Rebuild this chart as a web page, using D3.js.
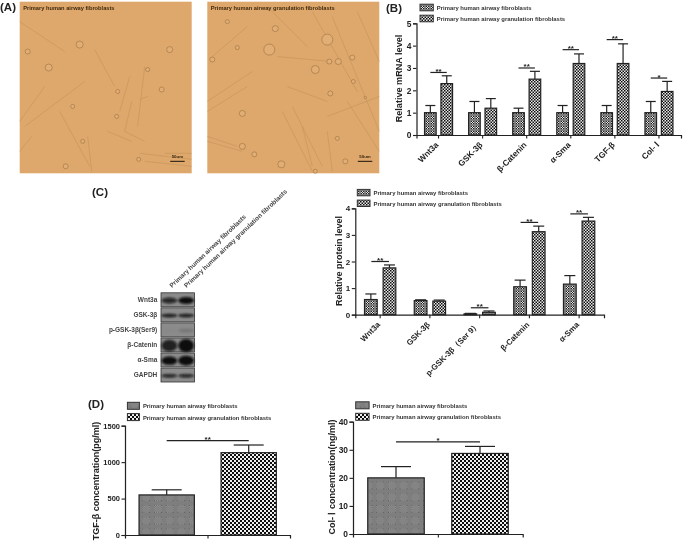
<!DOCTYPE html>
<html><head><meta charset="utf-8">
<style>
html,body{margin:0;padding:0;background:#fff}
svg{display:block}
text{font-family:"Liberation Sans",Arial,sans-serif}
</style>
<script src="https://cdn.jsdelivr.net/npm/d3@7/dist/d3.min.js"></script>
</head><body><div id="c"></div>
<script>
// ---------- data ----------
const seriesA = "Primary human airway fibroblasts";
const seriesB = "Primary human airway granulation fibroblasts";

const mrnaCats  = ["Wnt3a","GSK-3β","β-Catenin","α-Sma","TGF-β","Col- Ⅰ"];
const mrnaA     = [1,1,1,1,1,1];
const mrnaAHi   = [1.32,1.5,1.2,1.32,1.32,1.5];
const mrnaB     = [2.3,1.2,2.5,3.2,3.2,1.95];
const mrnaBHi   = [2.65,1.63,2.85,3.63,4.08,2.4];
const mrnaSig   = ["**","","**","**","**","*"];
const mrnaSigY  = [2.8,null,3.0,3.82,4.27,2.55];
const mrnaTicks = [0,1,2,3,4,5];

const protCats  = ["Wnt3a","GSK-3β","p-GSK-3β（Ser 9）","β-Catenin","α-Sma"];
const protA     = [0.57,0.53,0.03,1.05,1.15];
const protAHi   = [0.78,0.56,0.05,1.3,1.47];
const protB     = [1.76,0.51,0.09,3.12,3.52];
const protBHi   = [1.87,0.55,0.14,3.33,3.66];
const protSig   = ["**","","**","**","**"];
const protSigY  = [2.0,null,0.26,3.47,3.79];
const protTicks = [0,1,2,3,4];

const tgfVals = [550,1130], tgfHi = [620,1235], tgfSigY = 1294, tgfTicks = [0,500,1000,1500];
const colVals = [20,28.7],  colHi = [24,31.2],  colSigY = 32.8, colTicks = [0,10,20,30,40];

const blotRows = ["Wnt3a","GSK-3β","p-GSK-3β(Ser9)","β-Catenin","α-Sma","GAPDH"];
const blotLane1 = [0.8,0.9,0.02,0.85,1,0.85];   // band intensity
const blotLane2 = [1,0.9,0.14,1,1,0.85];
const blotBandH = [0.42,0.26,0.3,0.85,0.6,0.26];

// photo features, in photo pixels (0..172): strands [x1,y1,x2,y2], cells [x,y,r]
const strands1 = [[0,20,45,50],[75,48,95,85],[125,65,118,125],[110,75,100,110],[25,85,0,120],[65,80,5,125],[88,130,112,140],[105,130,125,140],[112,100,105,130],[120,152,172,158],[125,160,172,165],[40,110,70,165],[68,135,72,170],[120,98,128,95],[145,152,172,152],[0,150,12,135]];
const cells1 = [[60,43,3.5],[8,50,2.5],[29,66,3.5],[150,48,3],[128,68,2],[98,90,2],[142,88,2.5],[97,115,2],[53,105,2],[46,165,2.5],[63,140,2],[119,158,2]];
const strands2 = [[125,60,70,55],[105,10,150,90],[125,15,172,130],[150,10,172,60],[0,100,45,70],[0,110,40,85],[75,110,105,170],[85,105,115,165],[95,125,105,165],[120,115,172,95],[0,140,35,150],[0,135,30,145],[120,130,125,170],[140,100,172,150],[5,55,40,25],[60,5,100,45],[80,85,120,100]];
const cells2 = [[62,48,5.5],[120,38,5.5],[20,20,2],[68,27,3],[122,60,2.5],[131,60,3],[108,68,4],[146,80,2],[123,92,2.5],[145,56,2.5],[158,96,1.2],[35,112,3],[35,145,3],[47,153,2.5],[130,137,2],[74,163,3.5],[138,160,2.5],[30,46,2],[5,58,2.5],[108,170,2]];

// ---------- scaffold ----------
const svg = d3.select("#c").append("svg").attr("width",683).attr("height",541);
const defs = svg.append("defs");

function checkPattern(id,size,dark,light){
  const p = defs.append("pattern").attr("id",id).attr("patternUnits","userSpaceOnUse")
    .attr("width",size*2).attr("height",size*2);
  p.append("rect").attr("width",size*2).attr("height",size*2).attr("fill",light);
  p.append("rect").attr("width",size).attr("height",size).attr("fill",dark);
  p.append("rect").attr("x",size).attr("y",size).attr("width",size).attr("height",size).attr("fill",dark);
}
// coarse lattice of light/dark squares: drawn as a two-tone grid, fine enough to blur like the halftone
function patchPattern(id,period,patch,base,dark,light,cell){
  const p = defs.append("pattern").attr("id",id).attr("patternUnits","userSpaceOnUse")
    .attr("width",period).attr("height",period);
  p.append("rect").attr("width",period).attr("height",period).attr("fill",base);
  const n = Math.round(patch/cell), o = (period-n*cell)/2;
  d3.range(n).forEach(i=>d3.range(n).forEach(j=>{
    p.append("rect").attr("x",o+i*cell).attr("y",o+j*cell).attr("width",cell).attr("height",cell)
      .attr("fill",(i+j)%2?light:dark);
  }));
}
patchPattern("grayS",5,3,"#7d7d7d","#202020","#e4e4e4",1);
checkPattern("blackS",1.5,"#111","#e8e8e8");
patchPattern("grayL",11.7,7,"#7e7e7e","#101010","#ffffff",1);
checkPattern("blackL",2,"#111","#f0f0f0");

defs.append("filter").attr("id","blur1").attr("x","-30%").attr("y","-60%").attr("width","160%").attr("height","220%")
  .append("feGaussianBlur").attr("stdDeviation",0.9);
defs.append("filter").attr("id","soft").append("feGaussianBlur").attr("stdDeviation",0.3);

const ink = "#222";
const root = svg.append("g").attr("filter","url(#soft)");

function panelLabel(t,x,y){
  svg.append("text").attr("x",x).attr("y",y).text(t).attr("font-size",11.5).attr("font-weight",700).attr("fill","#222");
}
function legend(x,y,dy,w,h,pa,pb){
  [[seriesA,pa],[seriesB,pb]].forEach(([t,p],i)=>{
    root.append("rect").attr("x",x).attr("y",y+i*dy).attr("width",w).attr("height",h)
      .attr("fill",`url(#${p})`).attr("stroke","#333").attr("stroke-width",1);
    root.append("text").attr("x",x+w+3.5).attr("y",y+i*dy+h-1).text(t)
      .attr("font-size",5.9).attr("font-weight",700).attr("fill","#333");
  });
}

function barPanel(o){
  const g = root.append("g");
  const x = d3.scaleBand().domain(o.cats).range(o.xr).paddingInner(0).paddingOuter(0);
  const y = d3.scaleLinear().domain(o.yd).range(o.yr);
  const c = x.bandwidth();
  [[o.a,o.aHi,o.pa,-1],[o.b,o.bHi,o.pb,1]].forEach(([vals,his,pat,sgn])=>{
    o.cats.forEach((cat,i)=>{
      const cx = x(cat)+c/2+sgn*o.off, bx = cx-o.bw/2;
      g.append("line").attr("x1",cx).attr("x2",cx).attr("y1",y(vals[i])).attr("y2",y(his[i]))
        .attr("stroke",ink).attr("stroke-width",o.sw);
      g.append("line").attr("x1",cx-o.cap).attr("x2",cx+o.cap).attr("y1",y(his[i])).attr("y2",y(his[i]))
        .attr("stroke",ink).attr("stroke-width",o.sw);
      g.append("rect").attr("x",bx).attr("y",y(vals[i])).attr("width",o.bw).attr("height",y(0)-y(vals[i]))
        .attr("fill",`url(#${pat})`).attr("stroke",ink).attr("stroke-width",o.sw);
    });
  });
  o.cats.forEach((cat,i)=>{
    if(!o.sig[i]) return;
    const cx = x(cat)+c/2;
    g.append("line").attr("x1",cx-o.sigW).attr("x2",cx+o.sigW).attr("y1",y(o.sigY[i])).attr("y2",y(o.sigY[i]))
      .attr("stroke",ink).attr("stroke-width",1.2);
    g.append("text").attr("x",cx).attr("y",y(o.sigY[i])+1.5).attr("text-anchor","middle")
      .attr("font-size",8).attr("font-weight",700).attr("fill",ink).text(o.sig[i]);
  });
  const ya = d3.axisLeft(y).tickValues(o.ticks).tickSize(3.5).tickPadding(1.5).tickFormat(d3.format("d"));
  const yg = g.append("g").attr("transform",`translate(${o.xr[0]},0)`).call(ya);
  const xa = d3.axisBottom(x).tickSize(3.5).tickFormat("");
  const xg = g.append("g").attr("transform",`translate(0,${y(0)})`).call(xa);
  [yg,xg].forEach(s=>{s.selectAll("path").attr("stroke",ink).attr("stroke-width",1.2);
    s.selectAll("line").attr("stroke",ink).attr("stroke-width",1.1);});
  yg.selectAll("text").attr("font-size",o.tickFs).attr("font-weight",700).attr("fill",ink);
  o.cats.forEach(cat=>{
    const cx = x(cat)+c/2+o.lblDx;
    g.append("text").attr("transform",`translate(${cx},${y(0)+o.lblDy}) rotate(-45)`)
      .attr("text-anchor","end").attr("font-size",o.lblFs).attr("font-weight",700).attr("fill",ink).text(cat);
  });
  g.append("text").attr("transform",`translate(${o.ttlX},${o.ttlY}) rotate(-90)`)
    .attr("text-anchor","middle").attr("font-size",o.ttlFs).attr("font-weight",700).attr("fill",ink).text(o.title);
}

function singlePanel(o){
  const g = root.append("g");
  const x = d3.scaleBand().domain([0,1]).range(o.xb);
  const y = d3.scaleLinear().domain(o.yd).range(o.yr);
  [[0,o.pa],[1,o.pb]].forEach(([i,p])=>{
    const cx = x(i)+x.bandwidth()/2;
    g.append("line").attr("x1",cx).attr("x2",cx).attr("y1",y(o.v[i])).attr("y2",y(o.hi[i])).attr("stroke",ink).attr("stroke-width",1.2);
    g.append("line").attr("x1",cx-o.cap).attr("x2",cx+o.cap).attr("y1",y(o.hi[i])).attr("y2",y(o.hi[i])).attr("stroke",ink).attr("stroke-width",1.2);
    g.append("rect").attr("x",cx-o.bw/2).attr("y",y(o.v[i])).attr("width",o.bw).attr("height",y(0)-y(o.v[i]))
      .attr("fill",`url(#${p})`).attr("stroke",ink).attr("stroke-width",1.2);
  });
  const s0 = x(0)+x.bandwidth()/2, s1 = x(1)+x.bandwidth()/2;
  g.append("line").attr("x1",s0).attr("x2",s1).attr("y1",y(o.sigY)).attr("y2",y(o.sigY)).attr("stroke",ink).attr("stroke-width",1.3);
  g.append("text").attr("x",(s0+s1)/2).attr("y",y(o.sigY)+1.5).attr("text-anchor","middle").attr("font-size",8).attr("font-weight",700).attr("fill",ink).text(o.sig);
  const yg = g.append("g").attr("transform",`translate(${o.xr[0]},0)`).call(d3.axisLeft(y).tickValues(o.ticks).tickSize(3.5).tickPadding(1.5).tickFormat(d3.format("d")));
  yg.selectAll("path").attr("stroke",ink).attr("stroke-width",1.2);
  yg.selectAll("line").attr("stroke",ink).attr("stroke-width",1.1);
  yg.selectAll("text").attr("font-size",o.tickFs).attr("font-weight",700).attr("fill",ink);
  const xs = d3.scaleLinear().domain([0,1]).range(o.xr);
  const xg = g.append("g").attr("transform",`translate(0,${y(0)})`).call(d3.axisBottom(xs).tickValues([0.5]).tickSize(3.5).tickFormat(""));
  xg.selectAll("path").attr("stroke",ink).attr("stroke-width",1.2);
  xg.selectAll("line").attr("stroke",ink).attr("stroke-width",1.1);
  g.append("text").attr("transform",`translate(${o.ttlX},${o.ttlY}) rotate(-90)`)
    .attr("text-anchor","middle").attr("font-size",9).attr("font-weight",700).attr("fill",ink).text(o.title);
}

// ---------- panel A ----------
function photo(x0,y0,w,h,strands,cells,label){
  const g = svg.append("g");
  const px = d3.scaleLinear().domain([0,172]).range([x0,x0+w]);
  const py = d3.scaleLinear().domain([0,172]).range([y0,y0+h]);
  g.append("rect").attr("x",x0).attr("y",y0).attr("width",w).attr("height",h).attr("fill","#dea76b");
  const d = g.append("g").attr("filter","url(#soft)");
  d.selectAll(".s").data(strands).join("line")
    .attr("x1",s=>px(s[0])).attr("y1",s=>py(s[1])).attr("x2",s=>px(s[2])).attr("y2",s=>py(s[3]))
    .attr("stroke","#c2915a").attr("stroke-width",0.8).attr("stroke-opacity",.7);
  d.selectAll(".c").data(cells).join("circle")
    .attr("cx",s=>px(s[0])).attr("cy",s=>py(s[1])).attr("r",s=>s[2])
    .attr("fill","#e2ae74").attr("stroke","#8f6a3a").attr("stroke-width",0.7).attr("stroke-opacity",.75);
  g.append("text").attr("x",x0+3.5).attr("y",y0+8.5).text(label).attr("font-size",5.7).attr("font-weight",700).attr("fill","#3f2a10");
  g.append("line").attr("x1",px(150.5)).attr("x2",px(165)).attr("y1",py(160)).attr("y2",py(160)).attr("stroke","#1d130a").attr("stroke-width",1);
  g.append("text").attr("x",px(157.7)).attr("y",py(157)).attr("text-anchor","middle").text("50um").attr("font-size",4.4).attr("font-weight",700).attr("fill","#3a2710");
}
photo(19.7,1.7,172,171.6,strands1,cells1,seriesA);
photo(207.3,1.7,172,171.6,strands2,cells2,seriesB);
panelLabel("(A)",0,11);

// ---------- panel B ----------
panelLabel("(B)",386,12);
legend(420,4.2,11,13.3,6.6,"grayS","blackS");
barPanel({cats:mrnaCats,a:mrnaA,aHi:mrnaAHi,b:mrnaB,bHi:mrnaBHi,sig:mrnaSig,sigY:mrnaSigY,ticks:mrnaTicks,
  xr:[416.5,681],yr:[135,23.3],yd:[0,5],bw:11.6,off:8.2,cap:5,sw:1.2,sigW:8.2,pa:"grayS",pb:"blackS",
  tickFs:8.4,lblDx:0.5,lblDy:10.5,lblFs:8.3,title:"Relative mRNA level",ttlX:402,ttlY:78.5,ttlFs:9.1});

// ---------- panel C ----------
panelLabel("(C)",92,196);
legend(357.3,189.4,10.7,12.7,6.4,"grayS","blackS");
barPanel({cats:protCats,a:protA,aHi:protAHi,b:protB,bHi:protBHi,sig:protSig,sigY:protSigY,ticks:protTicks,
  xr:[355.3,604],yr:[314.7,208.3],yd:[0,4],bw:12.7,off:9.3,cap:5.5,sw:1.2,sigW:8.8,pa:"grayS",pb:"blackS",
  tickFs:8,lblDx:0.5,lblDy:10.5,lblFs:8,title:"Relative protein level",ttlX:342,ttlY:261,ttlFs:9});

// blot
const blot = svg.append("g");
const rowY = d3.scaleBand().domain(blotRows).range([292.8,382]).paddingInner(0.07);
const laneX = d3.scaleBand().domain([0,1]).range([161,194.5]);
blotRows.forEach((r,i)=>{
  const y0 = rowY(r), h = rowY.bandwidth();
  blot.append("rect").attr("x",161).attr("y",y0).attr("width",33.5).attr("height",h).attr("fill","#8b8b8b").attr("stroke","#333").attr("stroke-width",0.8);
  [blotLane1,blotLane2].forEach((lane,l)=>{
    blot.append("ellipse").attr("cx",laneX(l)+laneX.bandwidth()/2).attr("cy",y0+h*0.55)
      .attr("rx",laneX.bandwidth()*0.47).attr("ry",h*blotBandH[i]*0.5+(l&&i!=2&&i!=5&&i!=1?0.6:0))
      .attr("fill","#0a0a0a").attr("fill-opacity",lane[i]).attr("filter","url(#blur1)");
  });
  blot.append("text").attr("x",157.3).attr("y",y0+h/2+2.3).attr("text-anchor","end").attr("font-size",6.5).attr("font-weight",700).attr("fill","#444").text(r);
});
blot.append("text").attr("transform","translate(172,288) rotate(-43.5)").attr("font-size",6.4).attr("font-weight",700).attr("fill","#444").text(seriesA);
blot.append("text").attr("transform","translate(186.5,288) rotate(-43.5)").attr("font-size",6.4).attr("font-weight",700).attr("fill","#444").text(seriesB);

// ---------- panel D ----------
panelLabel("(D)",88,408);
legend(127.4,402.3,11.3,12,7,"grayL","blackL");
singlePanel({v:tgfVals,hi:tgfHi,sig:"**",sigY:tgfSigY,ticks:tgfTicks,xb:[125.7,289.7],xr:[125,290],yr:[535,425.7],yd:[0,1500],
  bw:55.3,cap:15,pa:"grayL",pb:"blackL",tickFs:7.5,title:"TGF-β   concentration(pg/ml)",ttlX:99,ttlY:481});
legend(355.7,401.8,11.5,13.4,7,"grayL","blackL");
singlePanel({v:colVals,hi:colHi,sig:"*",sigY:colSigY,ticks:colTicks,xb:[354,522],xr:[353,522.7],yr:[534,421.7],yd:[0,40],
  bw:56.5,cap:15,pa:"grayL",pb:"blackL",tickFs:8.4,title:"Col- Ⅰ   concentration(ng/ml)",ttlX:335,ttlY:477});
</script></body></html>
